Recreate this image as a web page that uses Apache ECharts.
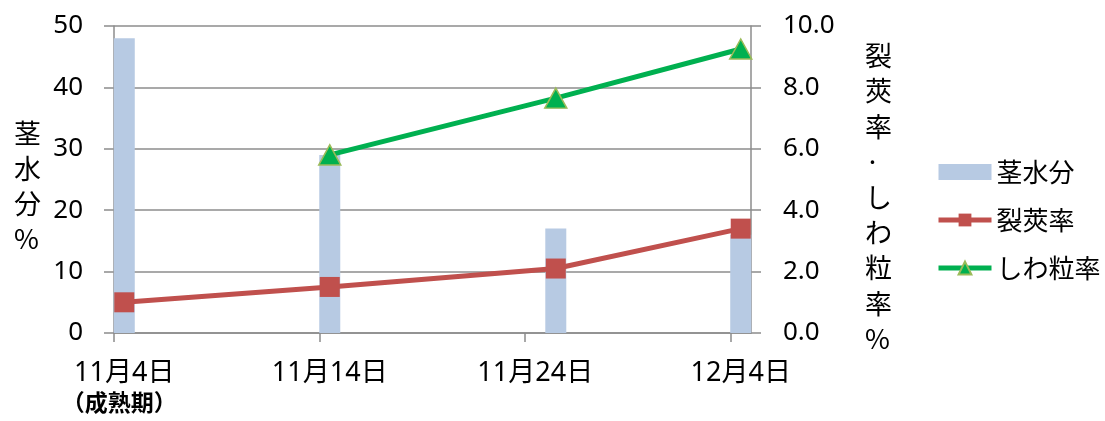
<!DOCTYPE html>
<html><head><meta charset="utf-8">
<script src="https://cdn.jsdelivr.net/npm/echarts@6/dist/echarts.min.js"></script>
<style>html,body{margin:0;padding:0;background:#fff}#c{width:1105px;height:421px}</style>
</head><body><div id="c"></div>
<script>
// ---- data ----
const dates = ['11-04', '11-14', '11-25', '12-04'];          // sampling dates
const stemMoisture = [48, 29, 17, 16];                          // 茎水分 (%), left axis
const podShatter = [1.0, 1.5, 2.1, 3.4];                        // 裂莢率 (%), right axis
const wrinkled = [null, 5.8, 7.65, 9.25];                       // しわ粒率 (%), right axis
const tickDates = ['11-04', '11-14', '11-24', '12-04'];
const tickLabels = ['11月4日', '11月14日', '11月24日', '12月4日'];
const firstSubLabel = '（成熟期）';
const axisEndDate = '12-05';
const leftTicks = [0, 10, 20, 30, 40, 50];
const rightTicks = [0, 2, 4, 6, 8, 10];

const FONT = "'Noto Sans', 'Noto Sans CJK JP', sans-serif";
const CJK = "'Noto Sans CJK JP', sans-serif";
function dayNo(md) { const [m, d] = md.split('-').map(Number); return Date.UTC(2000, m - 1, d) / 86400000; }
const base = dayNo(dates[0]);
const xOf = md => dayNo(md) - base;             // day offset
const ptX = dates.map(md => xOf(md) + 0.5);      // points placed mid-day (date axis style)
const tickX = tickDates.map(xOf);
const labelX = tickX.map(v => v + 0.5);
const xMax = xOf(axisEndDate);

const chart = echarts.init(document.getElementById('c'), null, { renderer: 'canvas' });
const gridColor = '#8c8c8c';
chart.setOption({
  animation: false,
  textStyle: { fontFamily: FONT },
  grid: { left: 114, right: 354, top: 26, bottom: 88, containLabel: false },
  xAxis: {
    type: 'value', min: 0, max: xMax, interval: 10,
    axisLine: { show: true, lineStyle: { color: gridColor, width: 1.5 } },
    axisTick: { show: true, length: 9, inside: false, customValues: tickX, lineStyle: { color: gridColor, width: 1.5 } },
    splitLine: { show: false },
    axisLabel: {
      customValues: labelX, margin: 25, color: '#000', fontSize: 27, fontFamily: FONT,
      formatter: v => {
        const i = labelX.findIndex(x => Math.abs(x - v) < 1e-6);
        if (i < 0) return '';
        return i === 0 ? '{a|' + tickLabels[i] + '}\n{b|' + firstSubLabel + '}' : '{a|' + tickLabels[i] + '}';
      },
      rich: {
        a: { fontSize: 27, fontFamily: FONT, color: '#000', lineHeight: 30 },
        b: { fontSize: 23, fontWeight: 'bold', fontFamily: CJK, color: '#000', lineHeight: 28, padding: [0, 10, 0, 0] }
      }
    }
  },
  yAxis: [
    {
      type: 'value', min: leftTicks[0], max: leftTicks[leftTicks.length - 1], interval: leftTicks[1] - leftTicks[0], position: 'left',
      axisLine: { show: true, lineStyle: { color: gridColor, width: 1.5 } },
      axisTick: { show: true, length: 10, lineStyle: { color: gridColor, width: 1.5 } },
      splitLine: { show: true, lineStyle: { color: gridColor, width: 1.5 } },
      axisLabel: { margin: 31, color: '#000', fontSize: 26, fontFamily: FONT }
    },
    {
      type: 'value', min: rightTicks[0], max: rightTicks[rightTicks.length - 1], interval: rightTicks[1] - rightTicks[0], position: 'right',
      axisLine: { show: true, lineStyle: { color: gridColor, width: 1.5 } },
      axisTick: { show: true, length: 10, lineStyle: { color: gridColor, width: 1.5 } },
      splitLine: { show: false },
      axisLabel: { margin: 32, color: '#000', fontSize: 26, fontFamily: FONT, formatter: v => v.toFixed(1) }
    }
  ],
  legend: {
    orient: 'vertical', left: 931, top: 154, itemWidth: 53, itemHeight: 16, itemGap: 22,
    textStyle: { fontSize: 26, color: '#000', fontFamily: CJK, padding: [0, 0, 0, 0] },
    data: [
      { name: '茎水分', icon: 'rect' },
      { name: '裂莢率', lineStyle: { width: 5 } },
      { name: 'しわ粒率', lineStyle: { width: 5 } }
    ]
  },
  graphic: [
    { type: 'text', left: 14, top: 116, style: { text: '茎\n水\n分\n%', font: '27px ' + CJK, fill: '#000', lineHeight: 35, align: 'center' } },
    { type: 'text', left: 865, top: 38, style: { text: '裂\n莢\n率\n·\nし\nわ\n粒\n率\n%', font: '27px ' + CJK, fill: '#000', lineHeight: 35.4, align: 'center' } }
  ],
  series: [
    {
      name: '茎水分', type: 'bar', yAxisIndex: 0, barWidth: 21,
      itemStyle: { color: '#b7cae3' },
      data: ptX.map((x, i) => [x, stemMoisture[i]]), z: 1
    },
    {
      name: '裂莢率', type: 'line', yAxisIndex: 1,
      symbol: 'rect', symbolSize: 20, showAllSymbol: true,
      lineStyle: { color: '#c0504d', width: 5 },
      itemStyle: { color: '#c0504d', borderWidth: 0 },
      data: ptX.map((x, i) => [x, podShatter[i]]), z: 3
    },
    {
      name: 'しわ粒率', type: 'line', yAxisIndex: 1,
      symbol: 'triangle', symbolSize: [22, 20],
      lineStyle: { color: '#00b050', width: 5 },
      itemStyle: { color: '#00b050', borderColor: '#9bbb59', borderWidth: 1.5 },
      data: ptX.map((x, i) => [x, wrinkled[i]]).filter(p => p[1] !== null), z: 4
    }
  ]
});
</script></body></html>
